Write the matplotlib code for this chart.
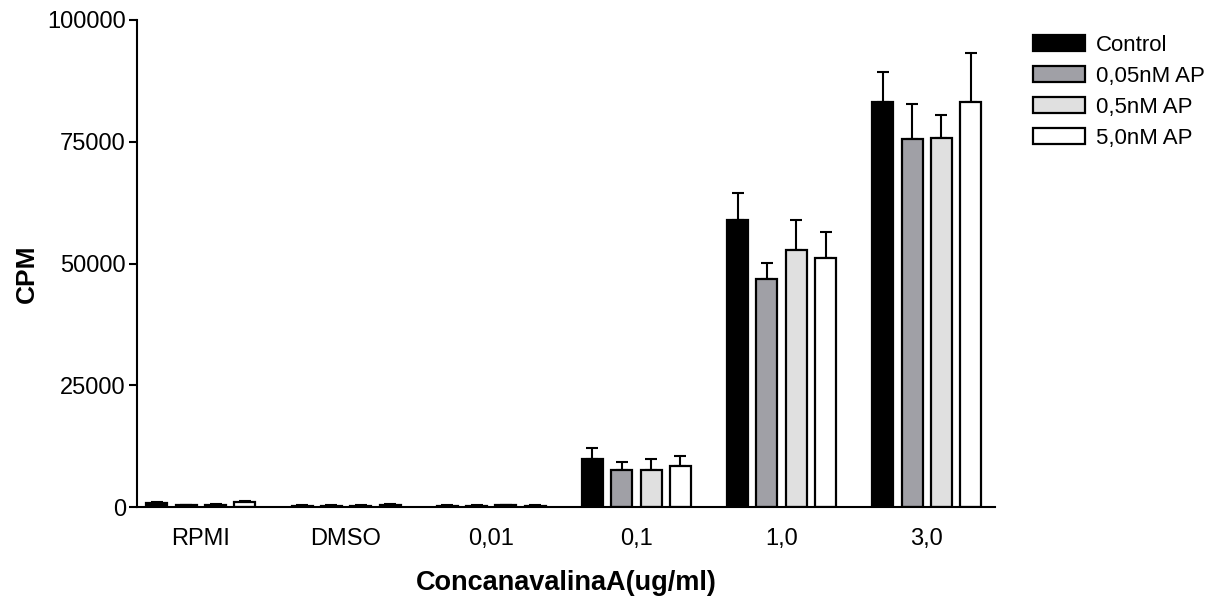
import matplotlib.pyplot as plt
import numpy as np

plt.rcParams['font.family'] = ['Liberation Sans', 'DejaVu Sans']

# data
groups = ['RPMI', 'DMSO', '0,01', '0,1', '1,0', '3,0']
series = ['Control', '0,05nM AP', '0,5nM AP', '5,0nM AP']
colors = ['#000000', '#a0a0a6', '#e0e0e0', '#ffffff']

control = [800, 300, 300, 9800, 58900, 83200]
ap005 = [400, 300, 300, 7600, 46800, 75500]
ap05 = [500, 300, 400, 7600, 52800, 75800]
ap50 = [1100, 500, 300, 8500, 51100, 83200]

control_err = [150, 80, 80, 2400, 5600, 6100]
ap005_err = [100, 80, 80, 1600, 3400, 7300]
ap05_err = [100, 80, 100, 2300, 6200, 4600]
ap50_err = [200, 100, 80, 2000, 5400, 10000]

values = [control, ap005, ap05, ap50]
errors = [control_err, ap005_err, ap05_err, ap50_err]

fig = plt.figure(figsize=(12.26, 6), dpi=100)
ax = fig.add_axes([137/1226, 1-507/600, (995-137)/1226, (507-20)/600])

x = np.arange(len(groups))
step = 0.202
width = 0.145
for i in range(4):
    pos = x + (i-1.5)*step
    v = np.array(values[i])
    e = np.array(errors[i])
    ax.errorbar(pos, v, yerr=[np.zeros_like(e), e], fmt='none', ecolor='black',
                elinewidth=1.5, capsize=4, capthick=1.5, zorder=1)
    ax.bar(pos, v, width, color=colors[i], edgecolor='black', linewidth=1.6,
           label=series[i], zorder=2)

ax.set_xlim(-0.44, 5.47)
ax.set_ylim(0, 100000)
ax.set_yticks([0, 25000, 50000, 75000, 100000])
ax.set_yticklabels(['0', '25000', '50000', '75000', '100000'])
ax.set_xticks(x)
ax.set_xticklabels(groups)

for s in ['top', 'right']:
    ax.spines[s].set_visible(False)
for s in ['left', 'bottom']:
    ax.spines[s].set_linewidth(1.5)
ax.tick_params(axis='y', length=6, width=1.5, labelsize=17, pad=2)
ax.tick_params(axis='x', length=0, labelsize=17, pad=15)

ax.set_xlabel('ConcanavalinaA(ug/ml)', fontsize=19.5, fontweight='bold', va='center')
ax.xaxis.set_label_coords(0.5, -0.156)
ax.set_ylabel('CPM', fontsize=19, fontweight='bold', va='center')
ax.yaxis.set_label_coords(-0.128, 0.478)

fig.legend(loc='upper left', bbox_to_anchor=(1033/1226, 1-35/600), frameon=False,
           fontsize=16, borderpad=0, handlelength=2.35, handleheight=0.72,
           handletextpad=0.5, labelspacing=0.45, borderaxespad=0)

plt.savefig('out.png', dpi=100)
